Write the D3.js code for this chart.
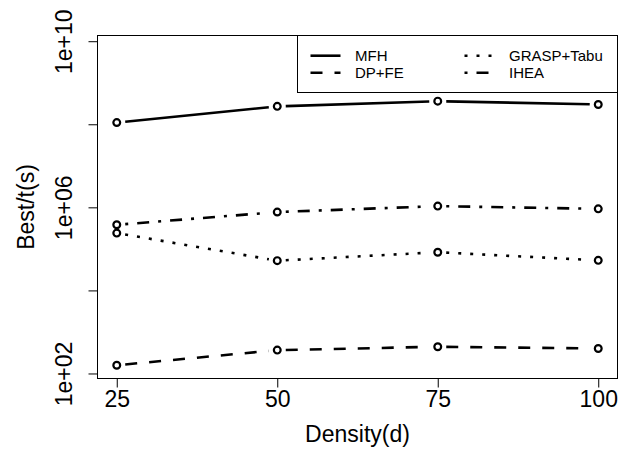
<!DOCTYPE html>
<html>
<head>
<meta charset="utf-8">
<script src="https://d3js.org/d3.v7.min.js"></script>
<style>
body { margin:0; background:white; }
svg { display:block; font-family:"Liberation Sans", Arial, Helvetica, sans-serif; }
</style>
</head>
<body>
<svg id="graph"></svg>
<script>
// densities on x axis
var densities = [25, 50, 75, 100];
var seriesNames = ["MFH", "DP+FE", "GRASP+Tabu", "IHEA"];
// Best/t(s) values
var mfh = [1.1e8, 2.7e8, 3.6e8, 3.0e8];
var dpfe = [158, 365, 440, 400];
var grasp = [2.4e5, 5.2e4, 8.3e4, 5.3e4];
var ihea = [3.8e5, 7.7e5, 1.07e6, 9.2e5];
var xTicks = [25, 50, 75, 100];
var yTicks = [1e2, 1e4, 1e6, 1e8, 1e10];
var yLabelled = [1e2, 1e6, 1e10];

var dashes = {"MFH":null, "DP+FE":"12,12", "GRASP+Tabu":"3,9", "IHEA":"3,9,12,9"};

var initGraph = function(target)
{
    var screen = {width:619, height:452};
    var margins = {top:35.5, bottom:73.5, left:97.5, right:1.5};
    var graph =
    {
        width:screen.width-margins.left-margins.right,
        height:screen.height-margins.top-margins.bottom
    };

    d3.select(target)
        .attr("width", screen.width)
        .attr("height", screen.height);

    var g = d3.select(target)
        .append("g")
        .classed("graph", true)
        .attr("transform", "translate("+margins.left+","+margins.top+")");

    var xScale = d3.scaleLinear()
        .domain([22, 103])
        .range([0, graph.width]);
    var yScale = d3.scaleLog()
        .domain([Math.pow(10, 1.879), Math.pow(10, 10.1375)])
        .range([graph.height, 0]);

    var series = [
        {name:"MFH", values:mfh},
        {name:"DP+FE", values:dpfe},
        {name:"GRASP+Tabu", values:grasp},
        {name:"IHEA", values:ihea}
    ];

    createAxes(g, graph, xScale, yScale);
    drawLines(g, series, xScale, yScale);
    createLabels(target, margins, graph);
    createLegend(g, graph);
};

var createAxes = function(g, graph, xScale, yScale)
{
    var xAxis = d3.axisBottom(xScale)
        .tickValues(xTicks)
        .tickSize(9)
        .tickPadding(3)
        .tickFormat(d3.format("d"));
    var yAxis = d3.axisLeft(yScale)
        .tickValues(yTicks)
        .tickSize(9)
        .tickFormat(function(d)
        {
            if (yLabelled.indexOf(d) < 0) {return "";}
            var p = Math.round(Math.log10(d));
            return "1e+" + (p < 10 ? "0" + p : p);
        });

    var xa = g.append("g")
        .attr("transform", "translate(0,"+graph.height+")")
        .call(xAxis);
    xa.select(".domain").remove();
    xa.selectAll("text")
        .attr("font-size", 23)
        .attr("fill", "black")
        .attr("font-family", null);

    var ya = g.append("g")
        .call(yAxis);
    ya.select(".domain").remove();
    ya.selectAll("text")
        .attr("font-size", 23)
        .attr("fill", "black")
        .attr("font-family", null)
        .attr("text-anchor", "middle")
        .attr("x", 0)
        .attr("y", -25.5)
        .attr("dy", null)
        .attr("transform", "rotate(-90)");

    g.selectAll(".tick line").attr("stroke", "black");

    g.append("rect")
        .attr("width", graph.width)
        .attr("height", graph.height)
        .attr("fill", "none")
        .attr("stroke", "black")
        .attr("stroke-width", 1);
};

var drawLines = function(g, series, xScale, yScale)
{
    var gap = 8.5;
    var groups = g.selectAll("g.series")
        .data(series)
        .enter()
        .append("g")
        .classed("series", true);

    // type="b": segments stop short of each point
    groups.selectAll("line")
        .data(function(s)
        {
            var segs = [];
            for (var i = 0; i < s.values.length-1; i++)
            {
                var x1 = xScale(densities[i]), y1 = yScale(s.values[i]);
                var x2 = xScale(densities[i+1]), y2 = yScale(s.values[i+1]);
                var len = Math.sqrt((x2-x1)*(x2-x1)+(y2-y1)*(y2-y1));
                var ux = (x2-x1)/len, uy = (y2-y1)/len;
                segs.push({name:s.name,
                    x1:x1+ux*gap, y1:y1+uy*gap, x2:x2-ux*gap, y2:y2-uy*gap});
            }
            return segs;
        })
        .enter()
        .append("line")
        .attr("x1", function(d){return d.x1;})
        .attr("y1", function(d){return d.y1;})
        .attr("x2", function(d){return d.x2;})
        .attr("y2", function(d){return d.y2;})
        .attr("stroke", "black")
        .attr("stroke-width", 2.6)
        .attr("stroke-dasharray", function(d){return dashes[d.name];});

    groups.selectAll("circle")
        .data(function(s){return s.values;})
        .enter()
        .append("circle")
        .attr("cx", function(v, i){return xScale(densities[i]);})
        .attr("cy", function(v){return yScale(v);})
        .attr("r", 3.4)
        .attr("fill", "none")
        .attr("stroke", "black")
        .attr("stroke-width", 2.2);
};

var createLabels = function(target, margins, graph)
{
    var labels = d3.select(target)
        .append("g")
        .classed("labels", true);

    labels.append("text")
        .text("Density(d)")
        .attr("text-anchor", "middle")
        .attr("font-size", 23)
        .attr("x", margins.left+graph.width/2)
        .attr("y", 442);

    labels.append("text")
        .text("Best/t(s)")
        .attr("text-anchor", "middle")
        .attr("font-size", 23)
        .attr("transform", "translate(34,"+(margins.top+graph.height/2)+") rotate(-90)");
};

var createLegend = function(g, graph)
{
    var lx = 200, lw = graph.width-lx, lh = 57;
    var legend = g.append("g")
        .classed("legend", true)
        .attr("transform", "translate("+lx+",0)");

    legend.append("rect")
        .attr("width", lw)
        .attr("height", lh)
        .attr("fill", "white")
        .attr("stroke", "black")
        .attr("stroke-width", 1);

    var entries = legend.selectAll("g.legendEntry")
        .data(seriesNames)
        .enter()
        .append("g")
        .classed("legendEntry", true)
        .attr("transform", function(name, i)
        {
            var col = Math.floor(i/2), row = i%2;
            return "translate("+(13+col*154)+","+(20.2+row*17)+")";
        });

    entries.append("line")
        .attr("x1", 0)
        .attr("x2", 30)
        .attr("stroke", "black")
        .attr("stroke-width", 2.6)
        .attr("stroke-dasharray", function(name){return dashes[name];});

    entries.append("text")
        .text(function(name){return name;})
        .attr("x", 44.5)
        .attr("y", 5.5)
        .attr("font-size", 15);
};

initGraph("#graph");
</script>
</body>
</html>
